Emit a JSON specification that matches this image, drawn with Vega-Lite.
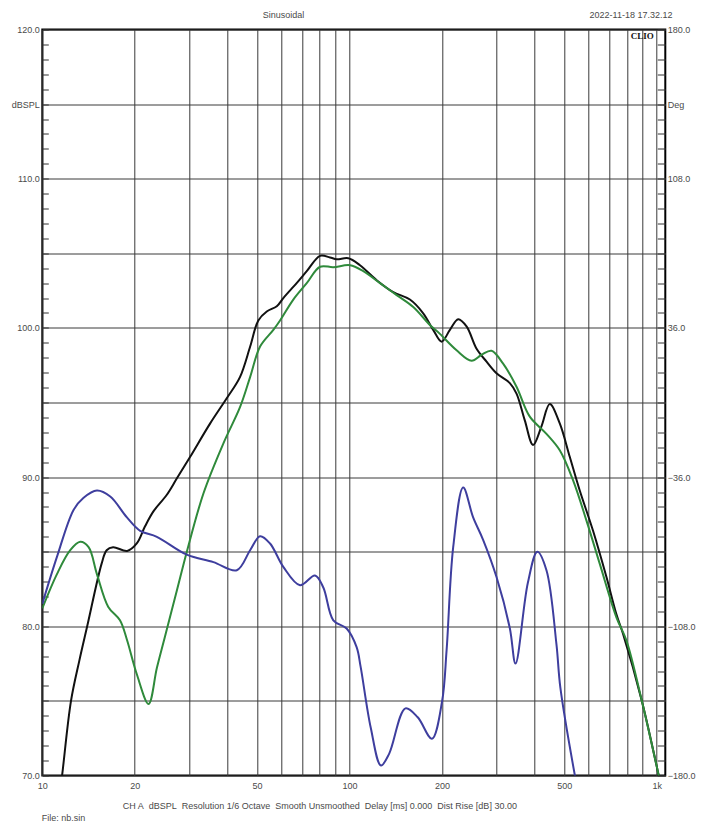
{
  "$schema": "https://vega.github.io/schema/vega-lite/v6.json",
  "width": 623,
  "height": 746,
  "autosize": {"type": "none"},
  "padding": {"left": 42.3, "top": 29.5, "right": 39.7, "bottom": 59.5},
  "background": "white",
  "config": {
    "view": {"stroke": "#000", "strokeWidth": 2},
    "font": "Liberation Sans",
    "axis": {
      "labelFont": "Liberation Sans",
      "labelFontSize": 9,
      "labelColor": "#4a4a4a",
      "titleFont": "Liberation Sans",
      "titleFontSize": 9,
      "titleFontWeight": "normal",
      "titleColor": "#4a4a4a",
      "gridColor": "#3a3a3a",
      "gridWidth": 1,
      "gridOpacity": 1,
      "labelFlush": false,
      "labelOverlap": false,
      "labelBound": false
    }
  },
  "datasets": {
    "curves": [
      {"s": "Curve 1", "f": 11.2, "db": 67.5},
      {"s": "Curve 1", "f": 11.6, "db": 70.0},
      {"s": "Curve 1", "f": 12.4, "db": 75.0},
      {"s": "Curve 1", "f": 13.2, "db": 77.7},
      {"s": "Curve 1", "f": 14.0, "db": 80.0},
      {"s": "Curve 1", "f": 15.6, "db": 84.2},
      {"s": "Curve 1", "f": 16.2, "db": 85.1},
      {"s": "Curve 1", "f": 17.0, "db": 85.3},
      {"s": "Curve 1", "f": 18.9, "db": 85.05},
      {"s": "Curve 1", "f": 20.3, "db": 85.55},
      {"s": "Curve 1", "f": 21.6, "db": 86.7},
      {"s": "Curve 1", "f": 23.0, "db": 87.7},
      {"s": "Curve 1", "f": 25.4, "db": 88.8},
      {"s": "Curve 1", "f": 27.4, "db": 89.9},
      {"s": "Curve 1", "f": 30.3, "db": 91.36},
      {"s": "Curve 1", "f": 35.2, "db": 93.6},
      {"s": "Curve 1", "f": 39.9, "db": 95.3},
      {"s": "Curve 1", "f": 44.0, "db": 96.7},
      {"s": "Curve 1", "f": 47.5, "db": 98.75},
      {"s": "Curve 1", "f": 50.5, "db": 100.5},
      {"s": "Curve 1", "f": 53.8, "db": 101.1},
      {"s": "Curve 1", "f": 58.0, "db": 101.45},
      {"s": "Curve 1", "f": 60.9, "db": 102.0},
      {"s": "Curve 1", "f": 67.3, "db": 103.0},
      {"s": "Curve 1", "f": 72.6, "db": 103.8},
      {"s": "Curve 1", "f": 80.2, "db": 104.83},
      {"s": "Curve 1", "f": 86.4, "db": 104.72},
      {"s": "Curve 1", "f": 90.9, "db": 104.6},
      {"s": "Curve 1", "f": 99.1, "db": 104.67},
      {"s": "Curve 1", "f": 108.2, "db": 104.2},
      {"s": "Curve 1", "f": 122.6, "db": 103.2},
      {"s": "Curve 1", "f": 138.8, "db": 102.4},
      {"s": "Curve 1", "f": 157.3, "db": 101.9},
      {"s": "Curve 1", "f": 173.8, "db": 100.98},
      {"s": "Curve 1", "f": 187.3, "db": 99.87},
      {"s": "Curve 1", "f": 199.5, "db": 99.08},
      {"s": "Curve 1", "f": 212.3, "db": 99.87},
      {"s": "Curve 1", "f": 225.9, "db": 100.58},
      {"s": "Curve 1", "f": 240.5, "db": 100.1},
      {"s": "Curve 1", "f": 259.3, "db": 98.6},
      {"s": "Curve 1", "f": 279.4, "db": 97.74},
      {"s": "Curve 1", "f": 301.1, "db": 96.96},
      {"s": "Curve 1", "f": 332.7, "db": 96.3},
      {"s": "Curve 1", "f": 349.8, "db": 95.6},
      {"s": "Curve 1", "f": 372.2, "db": 93.8},
      {"s": "Curve 1", "f": 396.0, "db": 92.15},
      {"s": "Curve 1", "f": 421.7, "db": 93.4},
      {"s": "Curve 1", "f": 448.7, "db": 94.9},
      {"s": "Curve 1", "f": 483.7, "db": 93.6},
      {"s": "Curve 1", "f": 521.3, "db": 91.36},
      {"s": "Curve 1", "f": 561.9, "db": 89.1},
      {"s": "Curve 1", "f": 620.8, "db": 86.4},
      {"s": "Curve 1", "f": 686.4, "db": 83.3},
      {"s": "Curve 1", "f": 739.7, "db": 80.8},
      {"s": "Curve 1", "f": 777.1, "db": 79.5},
      {"s": "Curve 1", "f": 895.0, "db": 75.0},
      {"s": "Curve 1", "f": 996.0, "db": 70.8},
      {"s": "Curve 1", "f": 1040.0, "db": 69.0},
      {"s": "Curve 2", "f": 10.0, "db": 81.2},
      {"s": "Curve 2", "f": 11.16, "db": 83.5},
      {"s": "Curve 2", "f": 12.33, "db": 85.1},
      {"s": "Curve 2", "f": 13.29, "db": 85.66},
      {"s": "Curve 2", "f": 14.15, "db": 85.3},
      {"s": "Curve 2", "f": 15.06, "db": 83.5},
      {"s": "Curve 2", "f": 16.4, "db": 81.3},
      {"s": "Curve 2", "f": 17.9, "db": 80.4},
      {"s": "Curve 2", "f": 18.86, "db": 79.1},
      {"s": "Curve 2", "f": 20.3, "db": 76.8},
      {"s": "Curve 2", "f": 22.18, "db": 74.8},
      {"s": "Curve 2", "f": 23.6, "db": 77.2},
      {"s": "Curve 2", "f": 25.0, "db": 79.2},
      {"s": "Curve 2", "f": 27.42, "db": 82.4},
      {"s": "Curve 2", "f": 29.55, "db": 85.0},
      {"s": "Curve 2", "f": 33.46, "db": 88.9},
      {"s": "Curve 2", "f": 38.87, "db": 92.26},
      {"s": "Curve 2", "f": 44.05, "db": 94.7},
      {"s": "Curve 2", "f": 47.48, "db": 96.7},
      {"s": "Curve 2", "f": 51.17, "db": 98.75},
      {"s": "Curve 2", "f": 56.52, "db": 99.87},
      {"s": "Curve 2", "f": 59.43, "db": 100.5},
      {"s": "Curve 2", "f": 65.64, "db": 101.9},
      {"s": "Curve 2", "f": 72.58, "db": 103.0},
      {"s": "Curve 2", "f": 80.2, "db": 104.1},
      {"s": "Curve 2", "f": 88.6, "db": 104.07},
      {"s": "Curve 2", "f": 100.4, "db": 104.2},
      {"s": "Curve 2", "f": 110.9, "db": 103.8},
      {"s": "Curve 2", "f": 125.7, "db": 103.0},
      {"s": "Curve 2", "f": 142.4, "db": 102.2},
      {"s": "Curve 2", "f": 161.3, "db": 101.4},
      {"s": "Curve 2", "f": 182.7, "db": 100.2},
      {"s": "Curve 2", "f": 197.0, "db": 99.6},
      {"s": "Curve 2", "f": 223.2, "db": 98.5},
      {"s": "Curve 2", "f": 249.7, "db": 97.8},
      {"s": "Curve 2", "f": 269.2, "db": 98.2},
      {"s": "Curve 2", "f": 290.1, "db": 98.47},
      {"s": "Curve 2", "f": 316.4, "db": 97.6},
      {"s": "Curve 2", "f": 349.8, "db": 96.06},
      {"s": "Curve 2", "f": 386.4, "db": 94.05},
      {"s": "Curve 2", "f": 437.8, "db": 92.9},
      {"s": "Curve 2", "f": 483.7, "db": 91.8},
      {"s": "Curve 2", "f": 534.2, "db": 89.8},
      {"s": "Curve 2", "f": 590.6, "db": 87.1},
      {"s": "Curve 2", "f": 652.6, "db": 84.2},
      {"s": "Curve 2", "f": 739.6, "db": 80.6},
      {"s": "Curve 2", "f": 797.0, "db": 79.06},
      {"s": "Curve 2", "f": 895.0, "db": 75.0},
      {"s": "Curve 2", "f": 996.0, "db": 70.8},
      {"s": "Curve 2", "f": 1040.0, "db": 69.0},
      {"s": "Curve 3", "f": 10.0, "db": 81.5},
      {"s": "Curve 3", "f": 11.16, "db": 84.65},
      {"s": "Curve 3", "f": 12.64, "db": 87.8},
      {"s": "Curve 3", "f": 13.6, "db": 88.6},
      {"s": "Curve 3", "f": 15.06, "db": 89.1},
      {"s": "Curve 3", "f": 16.64, "db": 88.7},
      {"s": "Curve 3", "f": 18.86, "db": 87.3},
      {"s": "Curve 3", "f": 20.83, "db": 86.4},
      {"s": "Curve 3", "f": 23.6, "db": 86.0},
      {"s": "Curve 3", "f": 29.55, "db": 84.8},
      {"s": "Curve 3", "f": 36.06, "db": 84.3},
      {"s": "Curve 3", "f": 42.97, "db": 83.76},
      {"s": "Curve 3", "f": 47.48, "db": 85.1},
      {"s": "Curve 3", "f": 51.17, "db": 86.04},
      {"s": "Curve 3", "f": 55.14, "db": 85.55},
      {"s": "Curve 3", "f": 60.9, "db": 83.98},
      {"s": "Curve 3", "f": 69.02, "db": 82.75},
      {"s": "Curve 3", "f": 77.23, "db": 83.4},
      {"s": "Curve 3", "f": 82.2, "db": 82.6},
      {"s": "Curve 3", "f": 88.6, "db": 80.4},
      {"s": "Curve 3", "f": 97.9, "db": 79.85},
      {"s": "Curve 3", "f": 105.5, "db": 78.6},
      {"s": "Curve 3", "f": 108.7, "db": 77.3},
      {"s": "Curve 3", "f": 117.3, "db": 73.2},
      {"s": "Curve 3", "f": 126.6, "db": 70.67},
      {"s": "Curve 3", "f": 134.6, "db": 71.45},
      {"s": "Curve 3", "f": 152.1, "db": 74.5},
      {"s": "Curve 3", "f": 166.8, "db": 73.9},
      {"s": "Curve 3", "f": 185.5, "db": 72.46},
      {"s": "Curve 3", "f": 200.3, "db": 75.0},
      {"s": "Curve 3", "f": 207.1, "db": 78.4},
      {"s": "Curve 3", "f": 217.6, "db": 85.3},
      {"s": "Curve 3", "f": 234.5, "db": 89.3},
      {"s": "Curve 3", "f": 252.7, "db": 87.3},
      {"s": "Curve 3", "f": 272.3, "db": 85.8},
      {"s": "Curve 3", "f": 301.1, "db": 83.3},
      {"s": "Curve 3", "f": 332.7, "db": 79.87},
      {"s": "Curve 3", "f": 347.2, "db": 77.5},
      {"s": "Curve 3", "f": 380.7, "db": 82.9},
      {"s": "Curve 3", "f": 408.8, "db": 85.0},
      {"s": "Curve 3", "f": 437.8, "db": 83.76},
      {"s": "Curve 3", "f": 471.8, "db": 78.8},
      {"s": "Curve 3", "f": 485.8, "db": 75.9},
      {"s": "Curve 3", "f": 540.7, "db": 70.1},
      {"s": "Curve 3", "f": 560.0, "db": 68.5}
    ]
  },
  "data": {"name": "curves"},
  "layer": [
    {
      "mark": {"type": "line", "interpolate": "catmull-rom", "strokeWidth": 2, "clip": true},
      "encoding": {
        "x": {
          "field": "f", "type": "quantitative",
          "scale": {"type": "log", "domain": [10, 1067], "nice": false},
          "axis": {
            "orient": "bottom",
            "values": [10, 20, 30, 40, 50, 60, 70, 80, 90, 100, 200, 300, 400, 500, 600, 700, 800, 900, 1000],
            "grid": true, "ticks": false, "tickSize": 0, "domain": false,
            "labelExpr": "datum.value==1000 ? '1k' : (datum.value==10||datum.value==20||datum.value==50||datum.value==100||datum.value==200||datum.value==500) ? format(datum.value,'d') : ''",
            "labelPadding": 6,
            "title": "CH A\u00a0\u00a0dBSPL\u00a0\u00a0Resolution 1/6 Octave\u00a0\u00a0Smooth Unsmoothed\u00a0\u00a0Delay [ms] 0.000\u00a0\u00a0Dist Rise [dB] 30.00",
            "titleX": 277, "titleY": 29.5, "titleAlign": "center", "titleBaseline": "middle"
          }
        },
        "y": {
          "field": "db", "type": "quantitative",
          "scale": {"domain": [70, 120], "nice": false, "zero": false},
          "axis": {
            "orient": "left",
            "values": [70, 75, 80, 85, 90, 95, 100, 105, 110, 115, 120],
            "grid": true, "ticks": false, "tickSize": 0, "domain": false,
            "labelExpr": "datum.value==115 ? 'dBSPL' : (datum.value%10==0 ? format(datum.value,'.1f') : '')",
            "labelPadding": 3,
            "title": null
          }
        },
        "color": {
          "field": "s", "type": "nominal",
          "scale": {"domain": ["Curve 1", "Curve 2", "Curve 3"], "range": ["#111111", "#2f8a3b", "#3e3e9e"]},
          "legend": null
        }
      }
    },
    {
      "mark": {"type": "line", "opacity": 0},
      "encoding": {
        "x": {
          "field": "f", "type": "quantitative",
          "scale": {"type": "log", "domain": [10, 1067], "nice": false},
          "axis": {
            "orient": "top", "values": [], "grid": false, "ticks": false, "labels": false, "domain": false,
            "title": "Sinusoidal", "titleX": 240.7, "titleY": -15, "titleAlign": "center", "titleBaseline": "middle"
          }
        },
        "y": {
          "field": "db", "type": "quantitative",
          "scale": {"domain": [70, 120], "nice": false, "zero": false},
          "axis": {
            "orient": "left",
            "values": [70,71,72,73,74,75,76,77,78,79,80,81,82,83,84,85,86,87,88,89,90,91,92,93,94,95,96,97,98,99,100,101,102,103,104,105,106,107,108,109,110,111,112,113,114,115,116,117,118,119,120],
            "grid": false, "ticks": true, "tickSize": -6, "tickColor": "#333", "tickWidth": 1,
            "labels": false, "domain": false, "title": null
          }
        }
      }
    },
    {
      "mark": {"type": "line", "opacity": 0},
      "encoding": {
        "x": {
          "field": "f", "type": "quantitative",
          "scale": {"type": "log", "domain": [10, 1067], "nice": false},
          "axis": {
            "orient": "top", "values": [], "grid": false, "ticks": false, "labels": false, "domain": false,
            "title": "2022-11-18 17.32.12", "titleX": 629.7, "titleY": -15, "titleAlign": "right", "titleBaseline": "middle"
          }
        },
        "y": {
          "field": "db", "type": "quantitative",
          "scale": {"domain": [70, 120], "nice": false, "zero": false},
          "axis": {
            "orient": "right",
            "values": [70,71,72,73,74,75,76,77,78,79,80,81,82,83,84,85,86,87,88,89,90,91,92,93,94,95,96,97,98,99,100,101,102,103,104,105,106,107,108,109,110,111,112,113,114,115,116,117,118,119,120],
            "grid": false, "ticks": true, "tickSize": -8, "tickColor": "#333", "tickWidth": 1,
            "labels": false, "domain": false, "title": null
          }
        }
      }
    },
    {
      "mark": {"type": "line", "opacity": 0},
      "encoding": {
        "x": {
          "field": "f", "type": "quantitative",
          "scale": {"type": "log", "domain": [10, 1067], "nice": false},
          "axis": {
            "orient": "bottom", "values": [], "grid": false, "ticks": false, "labels": false, "domain": false,
            "title": "File: nb.sin", "titleX": -1, "titleY": 41.5, "titleAlign": "left", "titleBaseline": "middle"
          }
        },
        "y": {
          "field": "db", "type": "quantitative",
          "scale": {"domain": [70, 120], "nice": false, "zero": false},
          "axis": {
            "orient": "right",
            "values": [70, 80, 90, 100, 110, 115, 120],
            "grid": false, "ticks": false, "tickSize": 0, "domain": false,
            "labelExpr": "datum.value==115 ? 'Deg' : format((datum.value-95)*7.2,'.1f')",
            "labelPadding": 2,
            "title": null
          }
        }
      }
    },
    {
      "data": {"values": [{"label": "CLIO"}]},
      "mark": {"type": "text", "font": "Liberation Serif", "fontWeight": "bold", "fontSize": 9, "align": "center", "baseline": "middle", "color": "#111"},
      "encoding": {
        "x": {"datum": 898, "type": "quantitative", "scale": {"type": "log", "domain": [10, 1067], "nice": false}, "axis": null},
        "y": {"datum": 119.56, "type": "quantitative", "scale": {"domain": [70, 120], "nice": false, "zero": false}, "axis": null},
        "text": {"field": "label"}
      }
    }
  ],
  "resolve": {"axis": {"x": "independent", "y": "independent"}}
}
